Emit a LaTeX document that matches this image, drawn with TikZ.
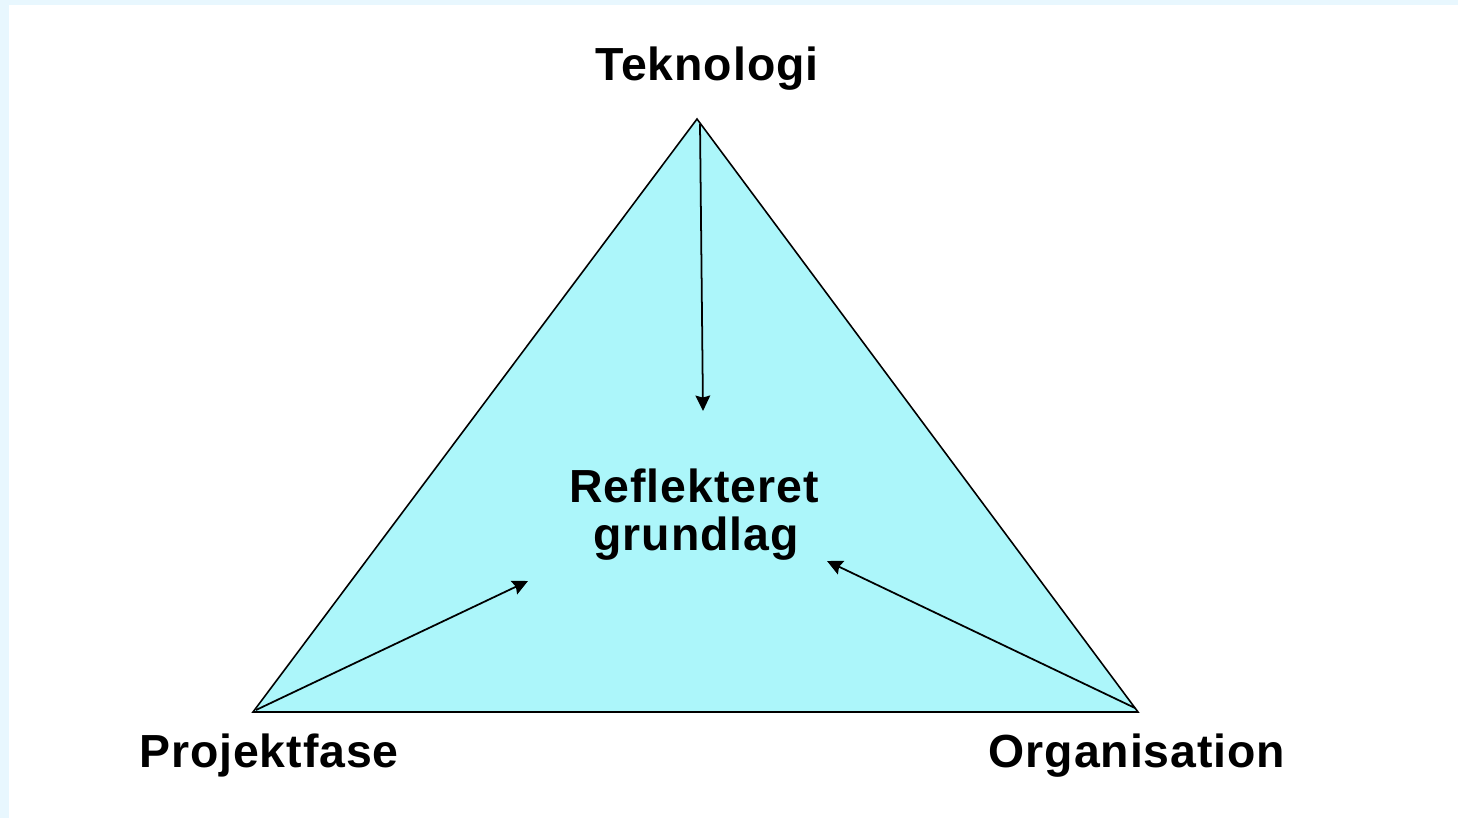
\documentclass[tikz,border=0pt]{standalone}
\usepackage{fontspec}
\setmainfont{Liberation Sans}
\usetikzlibrary{positioning,calc,arrows.meta}
\tikzset{>={Stealth[length=4.4pt,width=4.2pt,inset=0.6pt]}}
\definecolor{framebg}{RGB}{232,247,254}
\definecolor{trifill}{RGB}{172,246,250}
\tikzset{
  lbl/.style={font=\fontsize{13.2}{14.2}\selectfont\bfseries\addfontfeature{LetterSpace=2}, inner sep=0pt, anchor=base},
  edge/.style={draw=black, line width=0.45pt},
  pull/.style={->, line width=0.5pt}
}

\begin{document}
\begin{tikzpicture}[x=0.01cm,y=-0.01cm]
\useasboundingbox (0,0) rectangle (1458,818);
\fill[framebg] (0,0) rectangle (1458,818);
\fill[white] (9,5) rectangle (1458,818);
% corners of the triangle
\coordinate (top) at (697,119);
\coordinate (left) at (253,712);
\coordinate (right) at (1138,712);
\filldraw[edge, fill=trifill] (top) -- (left) -- (right) -- cycle;
% labels
\node[lbl] (tek) at (707,80) {Teknologi};
\node[lbl] (proj) at (269,767) {Projektfase};
\node[lbl] (org) at (1137,767) {Organisation};
\node[lbl] (refl) at (694,502) {Reflekteret};
\node[lbl] (grund) at (696,550) {grundlag};
% arrows into the middle
\coordinate (tekin) at (700,124);
\coordinate (tekend) at (703,411);
\coordinate (projin) at (256,710);
\coordinate (projend) at (528,581);
\coordinate (orgin) at (1135,708);
\coordinate (orgend) at (827,561);
\draw[pull] (tekin) -- (tekend);
\draw[pull] (projin) -- (projend);
\draw[pull] (orgin) -- (orgend);
\end{tikzpicture}
\end{document}
